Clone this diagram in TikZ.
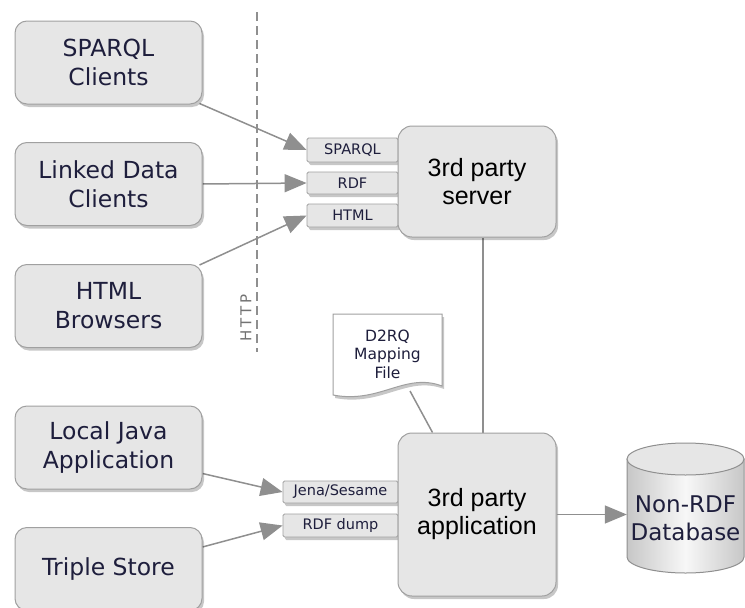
\documentclass[tikz,border=0pt]{standalone}
\usepackage{fontspec}
\setmainfont{DejaVu Sans}
\newfontfamily\arialfont{Liberation Sans}
\usetikzlibrary{shadows,arrows.meta,calc,backgrounds}
\definecolor{boxfill}{HTML}{E6E6E6}
\definecolor{boxline}{HTML}{A0A0A0}
\definecolor{wire}{HTML}{8F8F8F}
\definecolor{ink}{HTML}{1E1E3C}

\begin{document}
\begin{tikzpicture}[x=1pt,y=-1pt,
  softshadow/.style={drop shadow={shadow xshift=2pt,shadow yshift=-3pt,opacity=0.22,fill=black}},
  client/.style={draw=boxline,fill=boxfill,line width=1pt,rounded corners=12pt,
    minimum width=187pt,minimum height=83pt,align=center,text=ink,
    font=\fontsize{23.5}{29}\selectfont,softshadow},
  port/.style={draw=boxline,fill=boxfill,line width=0.8pt,rounded corners=1.5pt,
    inner sep=0pt,align=center,text=ink,font=\fontsize{14.5}{16}\selectfont,softshadow},
  hub/.style={draw=boxline,fill=boxfill,line width=1pt,rounded corners=14pt,
    minimum width=158pt,align=center,text=black,
    font=\arialfont\fontsize{25}{28}\selectfont,softshadow},
  feed/.style={draw=wire,line width=1.5pt,-{Triangle[length=22pt,width=18pt]},fill=wire},
  link/.style={draw=wire,line width=1.5pt},
]
\useasboundingbox (0,0) rectangle (745,608);

% client applications on the left
\node[client] (sc) at (108.5,62.5) {SPARQL\\Clients};
\node[client] (ld) at (108.5,184)  {Linked Data\\Clients};
\node[client] (hb) at (108.5,306)  {HTML\\Browsers};
\node[client] (lj) at (108.5,447.5) {Local Java\\Application};
\node[client] (ts) at (108.5,569)  {Triple Store};

% HTTP boundary
\coordinate (httptop) at (257,12);
\coordinate (httpbot) at (257,352);
\draw[wire,line width=1.2pt,dash pattern=on 9pt off 5pt] (httptop) -- (httpbot);
\node[rotate=90,text=black!55,font=\fontsize{15}{15}\selectfont] (http) at (246,318)
  {H\hspace{3pt}T\hspace{3pt}T\hspace{3pt}P};

% ports of the server and of the application
\node[port,minimum width=91pt,minimum height=24pt] (psparql) at (352.5,150) {SPARQL};
\node[port,minimum width=91pt,minimum height=22pt] (prdf)    at (352.5,183) {RDF};
\node[port,minimum width=91pt,minimum height=23pt] (phtml)   at (352.5,215.5) {HTML};
\node[port,minimum width=115pt,minimum height=22pt] (pjena)  at (340.5,492) {Jena/Sesame};
\node[port,minimum width=115pt,minimum height=23pt] (pdump)  at (340.5,525.5) {RDF dump};

% server and application
\node[hub,minimum height=111pt] (server) at (477,181.5) {3rd party\\server};
\node[hub,minimum height=163pt] (app) at (477,514.5) {3rd party\\application};

% mapping file
\path[draw=boxline,line width=1pt,fill=white,softshadow]
  (333,314) -- (442,314) -- (442,386)
  .. controls (405,372) and (380,404) .. (333,395) -- cycle;
\node[align=center,text=ink,font=\fontsize{15.5}{18.5}\selectfont] (doc) at (387.5,354) {D2RQ\\Mapping\\File};
\coordinate (docfoot) at (410,391);

% non-RDF database
\path[draw=wire,line width=1pt,left color=black!22,right color=black!22,middle color=white!97!black]
  (627,459) -- (627,557)
  .. controls (627,565.8) and (653.2,573) .. (685.5,573)
  .. controls (717.8,573) and (744,565.8) .. (744,557)
  -- (744,459) -- cycle;
\path[draw=wire,line width=1pt,fill=boxfill] (685.5,459) ellipse [x radius=58.5pt,y radius=16pt];
\node[align=center,text=ink,font=\fontsize{23}{28}\selectfont,minimum width=117pt,inner xsep=0pt] (db) at (685.5,518) {Non-RDF\\Database};

% connectors
\begin{scope}[on background layer]
  \draw[feed] ($(sc.south east)+(-3,-1)$) -- (psparql.west);
  \draw[feed] (ld.east) -- (prdf.west);
  \draw[feed] ($(hb.north east)+(-3,1)$) -- (phtml.west);
  \draw[feed] ($(lj.south east)+(0,-16)$) -- (pjena.west);
  \draw[feed] ($(ts.north east)+(0,20)$) -- (pdump.west);
  \draw[link] ($(server.south)+(6,0)$) -- ($(app.north)+(6,0)$);
  \draw[link] (docfoot) -- ($(app.north west)+(35,0)$);
\end{scope}
\draw[feed] (app.east) -- (app.east -| db.west);
\end{tikzpicture}
\end{document}
